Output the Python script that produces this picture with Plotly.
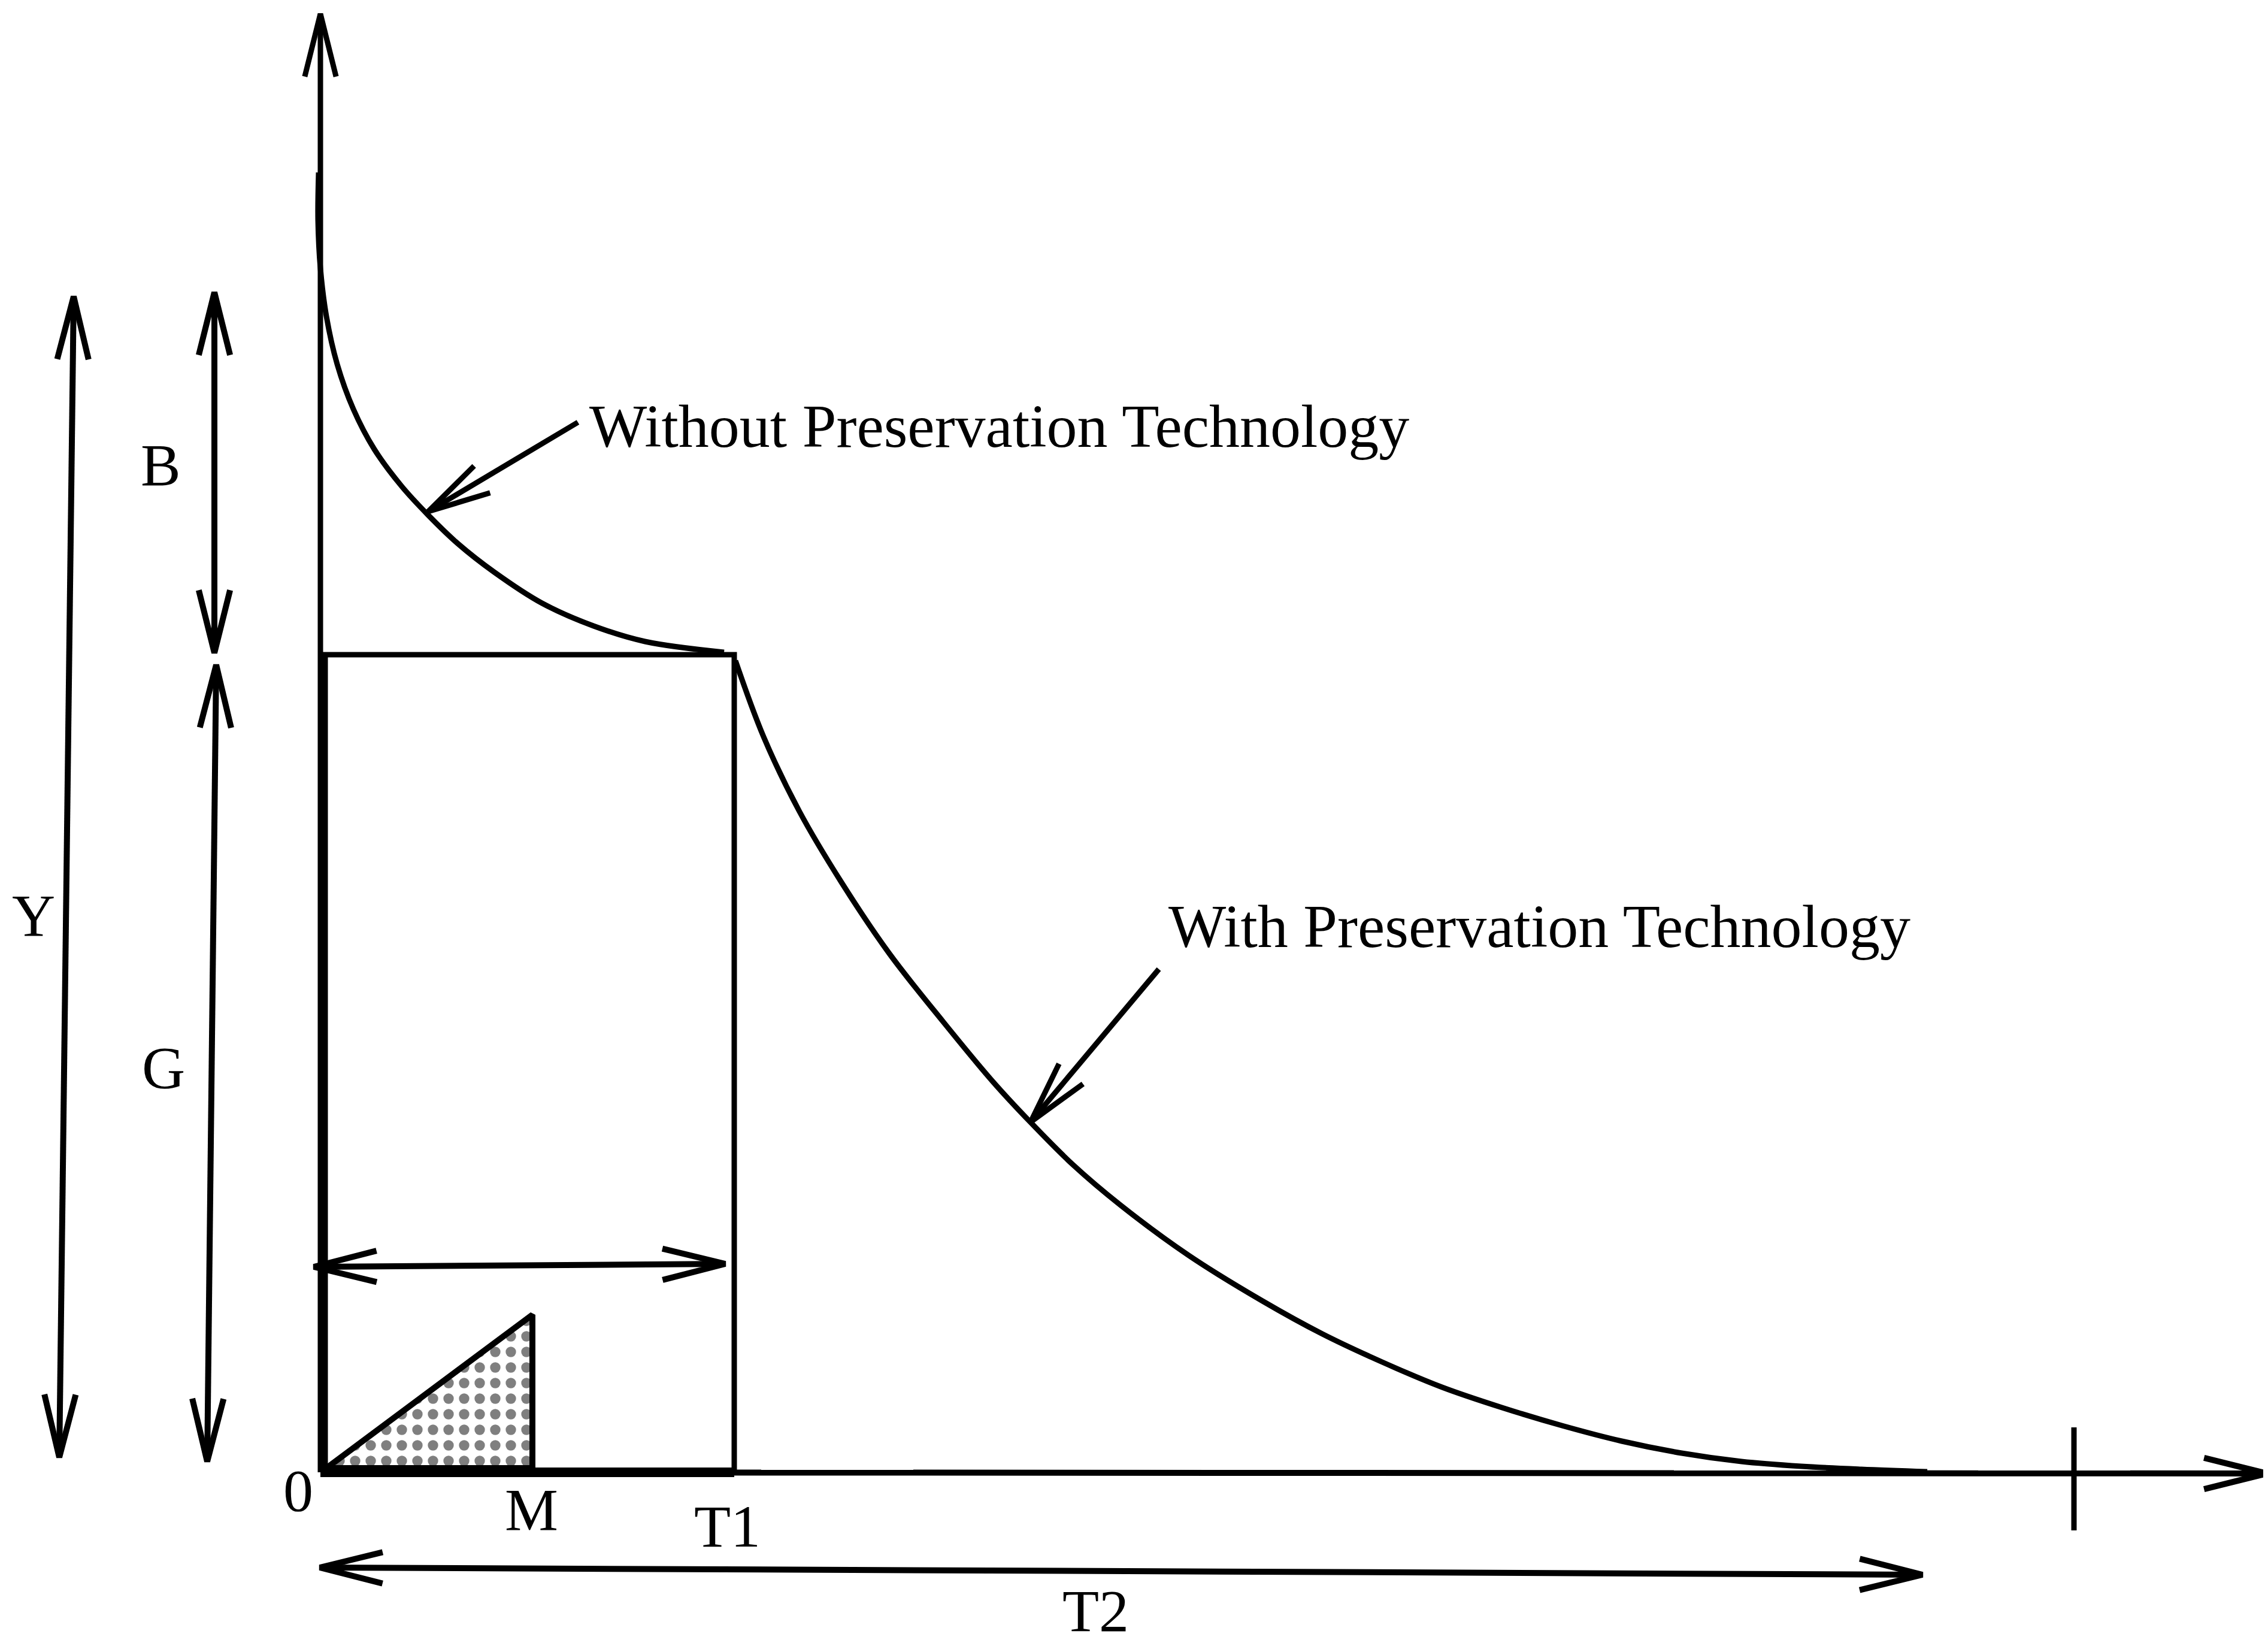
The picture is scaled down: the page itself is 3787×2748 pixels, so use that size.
import numpy as np
import plotly.graph_objects as go

# diagram units: origin at the corner of the axes, time to the right, stock upwards
T1 = 691          # end of the first period
M = 354           # credit period
T2 = 2675         # end of the cycle
G_LEVEL = 1365    # stock level at T1
AXIS_T_END = 3250
AXIS_Q_END = 2435
TICK_T = 2928

# stock curve before T1 (without preservation technology)
without_t = [-3, -4, 0, 10, 28, 55, 90, 135, 180, 230, 290, 370, 456, 542, 674]
without_q = [2170, 2090, 2010, 1930, 1850, 1775, 1708, 1647, 1598, 1550, 1503, 1451, 1413, 1387, 1369]

# stock curve after T1 (with preservation technology)
with_t = [693, 740, 800, 870, 950, 1040, 1123, 1186, 1256, 1336, 1450, 1573, 1673,
          1773, 1873, 1973, 2073, 2173, 2273, 2373, 2473, 2573, 2683]
with_q = [1355, 1228, 1103, 985, 866, 752, 652, 584, 514, 446, 362, 286, 231,
          184, 142, 108, 78, 52, 32, 18, 10, 5, 1]

# shaded triangle under the credit period
tri_t = [10, M, M, 10]
tri_q = [7, 7, 263, 7]

# double-headed dimension arrows: (start, end)
dim_arrows = {
    "Y": ((-412, 1963), (-436, 25)),
    "B": ((-177, 1970), (-177, 1368)),
    "G": ((-174, 1348), (-189, 18)),
    "T1": ((-11, 343), (676, 348)),
    "T2": ((-1, -159), (T2, -171)),
}

# single-headed pointer arrows: (tail, tip)
pointers = {
    "without": ((430, 1753), (180, 1604)),
    "with": ((1400, 840), (1186, 585)),
}

labels = [
    ("B", -267, 1682), ("Y", -479, 930), ("G", -262, 676),
    ("0", -37, -30), ("M", 352, -62), ("T1", 679, -90), ("T2", 1294, -231),
]
captions = [
    ("Without Preservation Technology", 447, 1747),
    ("With Preservation Technology", 1414, 912),
]

FONT = "Liberation Serif, Times New Roman, serif"

fig = go.Figure()


def add_line(xs, ys, width=9, shape="linear"):
    fig.add_trace(go.Scatter(x=xs, y=ys, mode="lines",
                             line=dict(color="black", width=width, shape=shape),
                             hoverinfo="skip", showlegend=False))


def head(tip, tail, length=108, half=np.radians(14)):
    d = np.array(tail, float) - np.array(tip, float)
    d /= np.linalg.norm(d)
    out = []
    for a in (half, -half):
        r = np.array([[np.cos(a), -np.sin(a)], [np.sin(a), np.cos(a)]])
        out.append(np.array(tip) + length * r @ d)
    return [out[0][0], tip[0], out[1][0]], [out[0][1], tip[1], out[1][1]]


def add_arrow(start, end, both=False, width=9):
    xs, ys = [start[0], end[0], None], [start[1], end[1], None]
    hx, hy = head(end, start)
    xs += hx + [None]
    ys += hy + [None]
    if both:
        hx, hy = head(start, end)
        xs += hx
        ys += hy
    add_line(xs, ys, width)


# axes
add_arrow((0, 0), (0, AXIS_Q_END), width=9)
add_arrow((0, 0), (AXIS_T_END, -2), width=10)
add_line([TICK_T, TICK_T], [-97, 75], width=9)

# rectangle up to T1
add_line([8, 8, T1, T1], [0, G_LEVEL, G_LEVEL, 0], width=9)
add_line([0, T1], [0, 0], width=16)

# triangle with stipple
fig.add_trace(go.Scatter(
    x=tri_t, y=tri_q, mode="lines", fill="toself", fillcolor="white",
    fillpattern=dict(shape=".", fgcolor="black", bgcolor="white", size=26, solidity=0.35),
    line=dict(color="black", width=10), hoverinfo="skip", showlegend=False))

# stock curves
add_line(without_t, without_q, width=9, shape="spline")
add_line(with_t, with_q, width=9, shape="spline")

for start, end in dim_arrows.values():
    add_arrow(start, end, both=True, width=10)
for tail, tip in pointers.values():
    add_arrow(tail, tip, width=9)

for text, x, y in labels:
    fig.add_annotation(x=x, y=y, text=text, showarrow=False,
                       xanchor="center", yanchor="middle",
                       font=dict(family=FONT, size=100, color="black"))
for text, x, y in captions:
    fig.add_annotation(x=x, y=y, text=text, showarrow=False,
                       xanchor="left", yanchor="middle",
                       font=dict(family=FONT, size=102, color="black"))

fig.update_layout(
    width=3787, height=2748, autosize=False,
    margin=dict(l=0, r=0, t=0, b=0),
    paper_bgcolor="white", plot_bgcolor="white",
    xaxis=dict(range=[-527, 3260], visible=False, fixedrange=True),
    yaxis=dict(range=[-298, 2450], visible=False, fixedrange=True),
)

fig.write_html("out.html")
